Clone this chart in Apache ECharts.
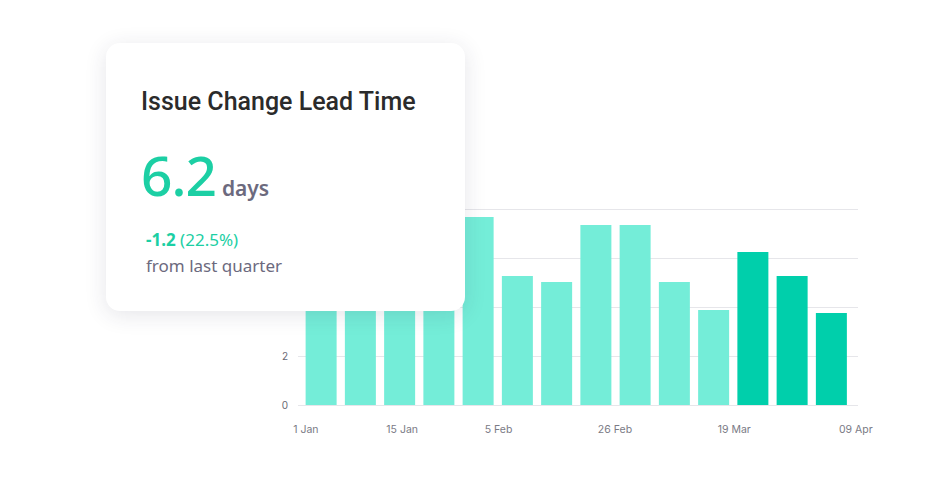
<!DOCTYPE html>
<html>
<head>
<meta charset="utf-8">
<script src="https://cdn.jsdelivr.net/npm/echarts@6/dist/echarts.min.js"></script>
<style>
    html, body { margin: 0; padding: 0; background: #fff; }
    #main { position: absolute; left: 0; top: 0; width: 951px; height: 501px; }
    /* 指标卡片 */
    .card {
        position: absolute; left: 106px; top: 43px; width: 359px; height: 268px;
        background: #fff; border-radius: 14px;
        box-shadow: 0 4px 22px rgba(40, 40, 70, 0.12);
        box-sizing: border-box; padding: 44px 0 0 35px;
    }
    .card .title { font-family: Roboto, sans-serif; font-weight: 500; font-size: 25px; color: #2b2b2b; line-height: 30px; }
    .card .value { margin-top: 30px; line-height: 56px; font-family: "Noto Sans", sans-serif; }
    .card .value .num { font-size: 55px; font-weight: 500; color: #1ccfa4; letter-spacing: -1px; }
    .card .value .unit { font-size: 21px; font-weight: 600; color: #6c6a7e; margin-left: 6px; }
    .card .delta { margin: 8px 0 0 5px; font-family: "Noto Sans", sans-serif; font-size: 17px; line-height: 27px; color: #1ccfa4; }
    .card .delta b { font-weight: 700; }
    .card .note { margin-left: 5px; font-family: "Noto Sans", sans-serif; font-size: 17px; line-height: 26px; color: #6c6a7e; }
</style>
</head>
<body>
<div id="main"></div>
<div class="card">
    <div class="title">Issue Change Lead Time</div>
    <div class="value"><span class="num">6.2</span><span class="unit">days</span></div>
    <div class="delta"><b>-1.2</b> (22.5%)</div>
    <div class="note">from last quarter</div>
</div>
<script>
// 每周的数据 (前四根被卡片挡住，估计值)
const weeks = ['1 Jan', '8 Jan', '15 Jan', '22 Jan', '29 Jan', '5 Feb', '12 Feb',
    '19 Feb', '26 Feb', '5 Mar', '12 Mar', '19 Mar', '26 Mar', '2 Apr'];
const leadDays = [6.4, 5.8, 6.8, 6.1, 7.67, 5.27, 5.02, 7.35, 7.35, 5.02, 3.88, 6.24, 5.27, 3.76];
const currentQuarter = [false, false, false, false, false, false, false,
    false, false, false, false, true, true, true];
// x轴刻度文字和位置 (占网格宽度的百分比)
const tickLabels = ['1 Jan', '15 Jan', '5 Feb', '26 Feb', '19 Mar', '09 Apr'];
const tickPos = [1.4, 18.6, 35.8, 56.6, 77.9, 99.6];
const yTicks = [0, 2, 4, 6, 8];

const LIGHT = '#74edd8';
const DARK = '#00cfab';

let myChart = echarts.init(document.getElementById('main'), null, { renderer: 'svg' });
let option = {
    animation: false,
    grid: [
        { left: 298, right: 93, top: 209, bottom: 96 },     // 网格线 + 刻度
        { left: 301.5, right: 100, top: 209, bottom: 96 }   // 柱子
    ],
    xAxis: [{
        gridIndex: 0,
        type: 'value',
        min: 0,
        max: 100,
        axisLine: { show: false },
        axisTick: { show: false },
        splitLine: { show: false },
        axisLabel: {
            customValues: tickPos,
            margin: 19,
            color: '#7a7a85',
            fontSize: 10.5,
            fontFamily: 'Inter',
            formatter: function (value) {
                let idx = tickPos.indexOf(value);
                return idx >= 0 ? tickLabels[idx] : '';
            }
        }
    }, {
        gridIndex: 1,
        type: 'category',
        data: weeks,
        show: false
    }],
    yAxis: [{
        gridIndex: 0,
        type: 'value',
        min: yTicks[0],
        max: yTicks[yTicks.length - 1],
        interval: 2,
        axisLine: { show: false },
        axisTick: { show: false },
        axisLabel: {
            margin: 10,
            color: '#6a6a75',
            fontSize: 10,
            fontFamily: 'Inter'
        },
        splitLine: { lineStyle: { color: '#e6e6ea', width: 1 } }
    }, {
        gridIndex: 1,
        type: 'value',
        min: yTicks[0],
        max: yTicks[yTicks.length - 1],
        show: false
    }],
    series: [{
        type: 'bar',
        xAxisIndex: 1,
        yAxisIndex: 1,
        barWidth: 31,
        data: leadDays.map((v, i) => ({
            value: v,
            itemStyle: { color: currentQuarter[i] ? DARK : LIGHT }
        }))
    }]
};
myChart.setOption(option);
</script>
</body>
</html>
